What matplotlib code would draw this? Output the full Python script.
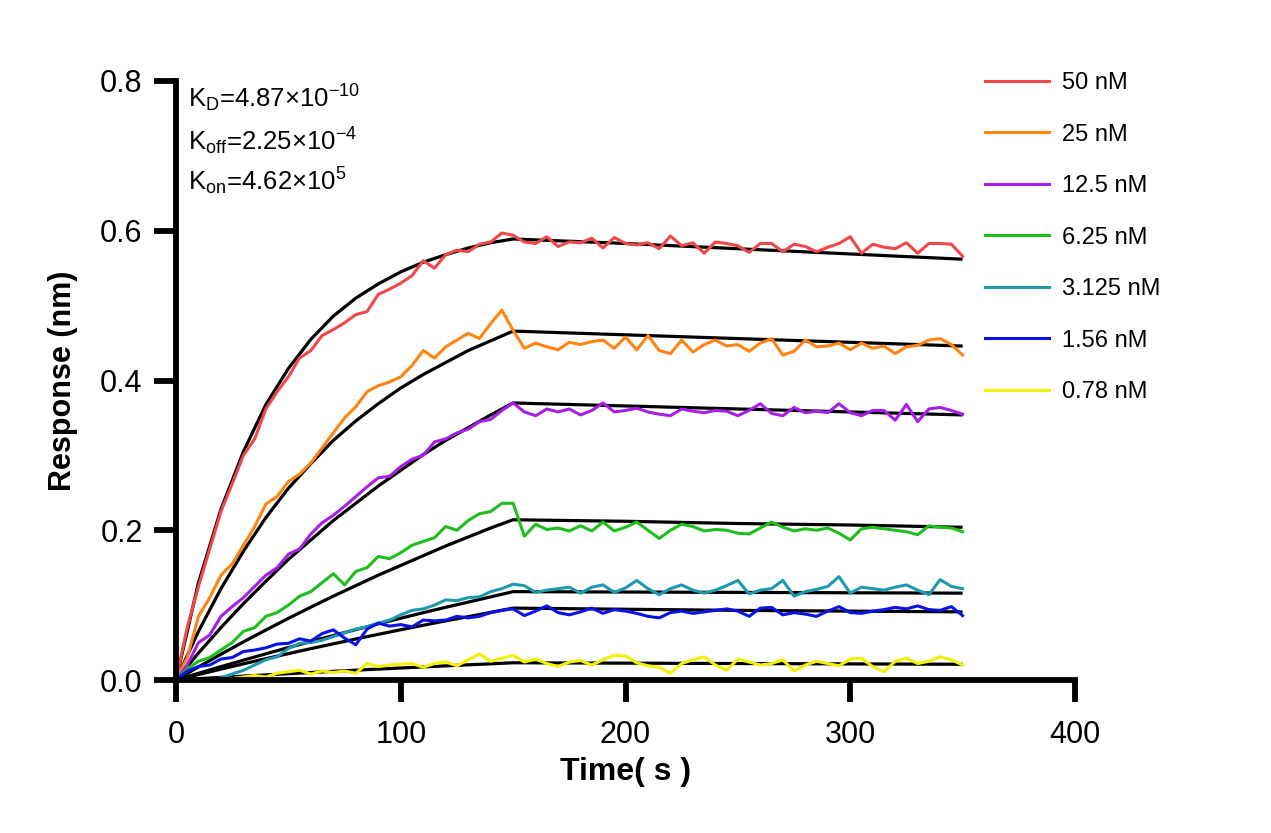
import numpy as np
import matplotlib
matplotlib.use("Agg")
import matplotlib.pyplot as plt

plt.rcParams['font.family'] = ['Liberation Sans', 'DejaVu Sans']
plt.rcParams['mathtext.fontset'] = 'custom'
plt.rcParams['mathtext.rm'] = 'Liberation Sans'
plt.rcParams['mathtext.it'] = 'Liberation Sans'
plt.rcParams['mathtext.default'] = 'regular'

# ---------------- data ----------------
labels = ["50 nM", "25 nM", "12.5 nM", "6.25 nM", "3.125 nM", "1.56 nM", "0.78 nM"]
colors = ["#F04848", "#FF8412", "#A61EE8", "#1EBE1E", "#1E9AAE", "#0A12E6", "#F2F200"]

time_data = np.arange(0, 351, 5)  # s

r50 = [0.0, 0.07, 0.125, 0.175, 0.225, 0.262, 0.300, 0.322, 0.362, 0.385, 0.405, 0.430, 0.440, 0.460, 0.468,
       0.477, 0.488, 0.492, 0.515, 0.522, 0.530, 0.540, 0.560, 0.550, 0.568, 0.574, 0.572, 0.582, 0.585, 0.597, 0.594,
       0.585, 0.583, 0.592, 0.579, 0.585, 0.584, 0.590, 0.577, 0.591, 0.583, 0.581, 0.584, 0.576, 0.593, 0.580, 0.584,
       0.570, 0.585, 0.583, 0.580, 0.571, 0.583, 0.583, 0.572, 0.582, 0.579, 0.572, 0.578, 0.583, 0.592, 0.570, 0.582,
       0.578, 0.576, 0.584, 0.570, 0.583, 0.583, 0.582, 0.566]
r25 = [0.0, 0.03, 0.085, 0.11, 0.14, 0.155, 0.18, 0.205, 0.235, 0.245, 0.265, 0.275, 0.29, 0.31, 0.33,
       0.35, 0.365, 0.385, 0.393, 0.398, 0.405, 0.42, 0.44, 0.43, 0.445, 0.454, 0.463, 0.456, 0.476, 0.494, 0.467,
       0.443, 0.450, 0.445, 0.441, 0.451, 0.448, 0.452, 0.454, 0.443, 0.458, 0.441, 0.460, 0.440, 0.436, 0.454, 0.438,
       0.448, 0.454, 0.446, 0.448, 0.439, 0.450, 0.456, 0.434, 0.439, 0.454, 0.445, 0.446, 0.450, 0.441, 0.450, 0.443,
       0.446, 0.436, 0.445, 0.447, 0.454, 0.456, 0.448, 0.434]
r12 = [0.0, 0.02, 0.05, 0.06, 0.085, 0.098, 0.11, 0.125, 0.14, 0.15, 0.168, 0.175, 0.195, 0.21, 0.22,
       0.232, 0.245, 0.258, 0.27, 0.272, 0.285, 0.295, 0.30, 0.318, 0.322, 0.33, 0.335, 0.345, 0.348, 0.36, 0.37,
       0.358, 0.353, 0.362, 0.358, 0.362, 0.354, 0.360, 0.370, 0.358, 0.360, 0.363, 0.358, 0.355, 0.353, 0.362, 0.359,
       0.357, 0.360, 0.359, 0.353, 0.360, 0.369, 0.356, 0.353, 0.364, 0.357, 0.359, 0.357, 0.369, 0.357, 0.353, 0.360,
       0.360, 0.347, 0.368, 0.345, 0.362, 0.364, 0.360, 0.355]
r6 = [0.0, 0.015, 0.025, 0.03, 0.04, 0.05, 0.065, 0.07, 0.085, 0.09, 0.10, 0.112, 0.118, 0.13, 0.142,
      0.127, 0.145, 0.15, 0.165, 0.162, 0.17, 0.18, 0.185, 0.19, 0.205, 0.20, 0.213, 0.222, 0.225, 0.236, 0.236,
      0.192, 0.208, 0.201, 0.203, 0.199, 0.206, 0.199, 0.211, 0.199, 0.204, 0.211, 0.200, 0.189, 0.200, 0.208, 0.205,
      0.199, 0.201, 0.200, 0.196, 0.195, 0.203, 0.211, 0.204, 0.199, 0.202, 0.200, 0.203, 0.196, 0.187, 0.202, 0.204,
      0.202, 0.200, 0.198, 0.194, 0.206, 0.204, 0.203, 0.198]
r3 = [0.0, 0.0, 0.0, 0.0, 0.003, 0.008, 0.013, 0.02, 0.027, 0.031, 0.042, 0.049, 0.05, 0.053, 0.058,
      0.063, 0.068, 0.071, 0.076, 0.08, 0.087, 0.093, 0.095, 0.10, 0.107, 0.106, 0.11, 0.111, 0.118, 0.122, 0.128,
      0.126, 0.117, 0.120, 0.122, 0.124, 0.116, 0.124, 0.127, 0.117, 0.123, 0.133, 0.122, 0.114, 0.122, 0.127, 0.120,
      0.116, 0.120, 0.126, 0.133, 0.115, 0.120, 0.122, 0.133, 0.112, 0.118, 0.121, 0.125, 0.138, 0.116, 0.124, 0.122,
      0.120, 0.124, 0.127, 0.120, 0.114, 0.134, 0.125, 0.122]
r1 = [0.0, 0.012, 0.018, 0.02, 0.028, 0.03, 0.038, 0.04, 0.043, 0.048, 0.049, 0.055, 0.052, 0.062, 0.067,
      0.056, 0.047, 0.068, 0.076, 0.072, 0.074, 0.071, 0.08, 0.079, 0.08, 0.085, 0.083, 0.085, 0.09, 0.093, 0.095,
      0.086, 0.092, 0.099, 0.090, 0.087, 0.091, 0.096, 0.089, 0.094, 0.092, 0.089, 0.085, 0.083, 0.090, 0.092, 0.089,
      0.091, 0.093, 0.095, 0.092, 0.085, 0.096, 0.097, 0.087, 0.090, 0.088, 0.085, 0.092, 0.098, 0.090, 0.089, 0.092,
      0.094, 0.097, 0.095, 0.099, 0.094, 0.093, 0.098, 0.086]
r0 = [0.0, 0.0, 0.0, 0.0, 0.0, 0.002, 0.004, 0.006, 0.004, 0.009, 0.011, 0.013, 0.008, 0.012, 0.010,
      0.012, 0.009, 0.022, 0.018, 0.020, 0.021, 0.022, 0.017, 0.022, 0.024, 0.019, 0.027, 0.035, 0.025, 0.029, 0.033,
      0.024, 0.028, 0.022, 0.018, 0.024, 0.026, 0.020, 0.027, 0.033, 0.032, 0.023, 0.019, 0.017, 0.009, 0.022, 0.027,
      0.031, 0.020, 0.013, 0.028, 0.024, 0.020, 0.022, 0.027, 0.012, 0.020, 0.025, 0.022, 0.019, 0.028, 0.029, 0.018,
      0.011, 0.025, 0.029, 0.022, 0.025, 0.031, 0.027, 0.020]

time_fit = [0, 10, 20, 30, 40, 50, 60, 70, 80, 90, 100, 110, 120, 130, 140, 150, 200, 250, 300, 350]
f50 = [0, 0.130, 0.228, 0.305, 0.368, 0.416, 0.455, 0.486, 0.510, 0.529, 0.545, 0.558, 0.568, 0.577, 0.584, 0.589,
       0.583, 0.576, 0.569, 0.562]
f25 = [0, 0.065, 0.122, 0.172, 0.217, 0.256, 0.289, 0.320, 0.346, 0.369, 0.390, 0.408, 0.424, 0.440, 0.453, 0.466,
       0.461, 0.456, 0.451, 0.446]
f12 = [0, 0.036, 0.070, 0.102, 0.132, 0.161, 0.187, 0.213, 0.236, 0.259, 0.280, 0.301, 0.320, 0.337, 0.354, 0.370,
       0.366, 0.362, 0.358, 0.354]
f6 = [0, 0.0175, 0.0344, 0.0509, 0.0668, 0.0823, 0.0973, 0.112, 0.126, 0.140, 0.153, 0.166, 0.179, 0.191, 0.203, 0.214,
      0.212, 0.209, 0.207, 0.204]
f3 = [0, 0.009, 0.0178, 0.0265, 0.035, 0.0433, 0.0515, 0.0594, 0.0673, 0.075, 0.0825, 0.0899, 0.0971, 0.104, 0.111, 0.118,
      0.1175, 0.117, 0.1165, 0.116]
f1 = [0, 0.0073, 0.0145, 0.0216, 0.0285, 0.0352, 0.0419, 0.0483, 0.0548, 0.061, 0.0671, 0.0731, 0.079, 0.0846, 0.0903, 0.096,
      0.0945, 0.093, 0.092, 0.091]
f0 = [0, 0.0018, 0.0035, 0.0052, 0.0068, 0.0084, 0.010, 0.0116, 0.0131, 0.0146, 0.016, 0.0175, 0.0189, 0.0203, 0.0216, 0.023,
      0.0225, 0.022, 0.0215, 0.021]

x_ticks = [0, 100, 200, 300, 400]
y_ticks = [0.0, 0.2, 0.4, 0.6, 0.8]
y_tick_labels = ["0.0", "0.2", "0.4", "0.6", "0.8"]
annot = [r"K$_{D}$=4.87×10$^{-10}$", r"K$_{off}$=2.25×10$^{-4}$", r"K$_{on}$=4.62×10$^{5}$"]

series = [r50, r25, r12, r6, r3, r1, r0]
fits = [f50, f25, f12, f6, f3, f1, f0]

# ---------------- figure ----------------
W, H = 1271, 833
fig = plt.figure(figsize=(W / 100, H / 100), dpi=100)
ax = fig.add_axes([176 / W, 1 - 680 / H, (1075 - 176) / W, (680 - 81) / H])

for f in fits:
    ax.plot(time_fit, f, color="black", lw=2.3, zorder=2, solid_capstyle='butt')
handles = []
for s, c, lab in zip(series, colors, labels):
    h, = ax.plot(time_data, s, color=c, lw=2.2, zorder=3, label=lab)
    handles.append(h)

ax.set_xlim(0, 400)
ax.set_ylim(0, 0.8)
ax.set_xticks(x_ticks)
ax.set_yticks(y_ticks)
ax.set_yticklabels(y_tick_labels)

for side in ['top', 'right']:
    ax.spines[side].set_visible(False)
for side in ['left', 'bottom']:
    ax.spines[side].set_linewidth(4.2)
    ax.spines[side].set_zorder(5)
ax.spines['left'].set_capstyle('projecting')
ax.spines['bottom'].set_capstyle('projecting')

ax.tick_params(axis='both', which='major', direction='out', length=16, width=4.2,
               labelsize=22, color='black')
ax.tick_params(axis='x', pad=13)
ax.tick_params(axis='y', pad=8)

ax.set_xlabel("Time( s )", fontsize=23, fontweight='bold', labelpad=5)
ax.set_ylabel("Response (nm)", fontsize=22, fontweight='bold', labelpad=16)

# kinetic constants
baselines = [107, 150, 190]
for txt, yb in zip(annot, baselines):
    fig.text(188 / W, 1 - yb / H, txt, fontsize=18.5, ha='left', va='baseline')

leg = fig.legend(handles=handles, labels=labels, loc='upper left',
                 bbox_to_anchor=(985 / W, 1 - 72 / H), frameon=False,
                 fontsize=17, handlelength=2.7, handletextpad=0.55,
                 labelspacing=1.25, borderpad=0, borderaxespad=0)
for line in leg.get_lines():
    line.set_linewidth(2.2)

fig.savefig("out.png", dpi=100)
